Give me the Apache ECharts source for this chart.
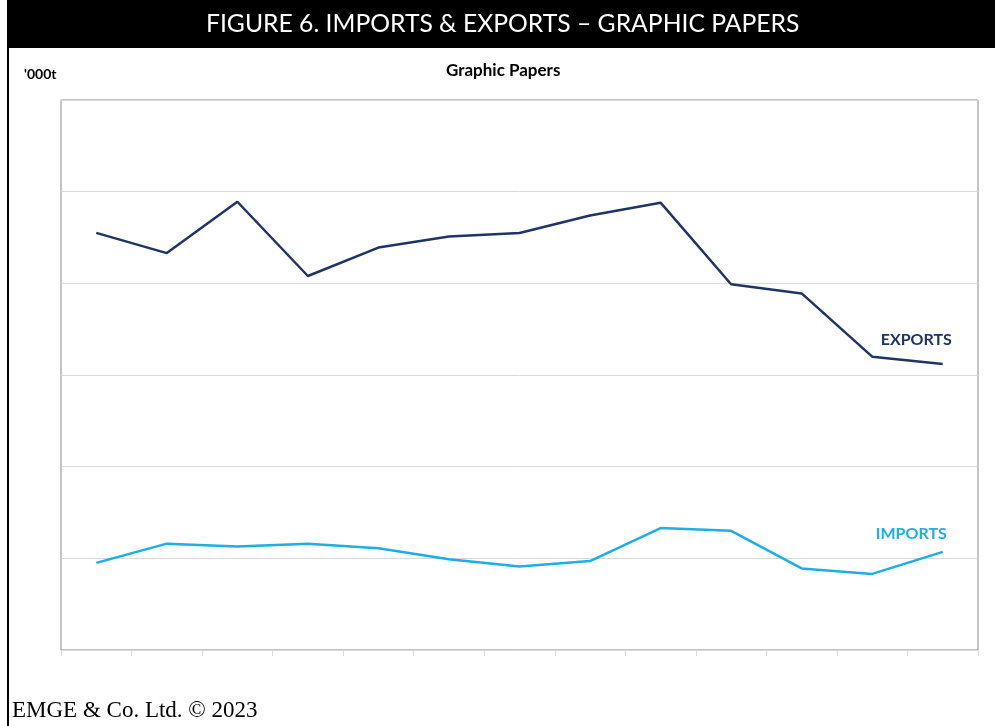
<!DOCTYPE html>
<html>
<head>
<meta charset="utf-8">
<title>Figure 6. Imports & Exports - Graphic Papers</title>
<script src="https://cdn.jsdelivr.net/npm/echarts@6/dist/echarts.min.js"></script>
<style>
  html, body { margin: 0; padding: 0; background: #fff; }
  #chart { width: 995px; height: 726px; }
</style>
</head>
<body>
<div id="chart"></div>
<script>
// data ('000t, axis values not printed)
var categories = ['1', '2', '3', '4', '5', '6', '7', '8', '9', '10', '11', '12', '13'];
var exportsData = [455, 433, 489, 408, 439, 451, 455, 474, 488, 399, 389, 320, 312];
var importsData = [95, 116, 113, 116, 111, 99, 91, 97, 133, 130, 89, 83, 107];

var exportColor = '#1f3566';
var importColor = '#1cafe6';

var myChart = echarts.init(document.getElementById('chart'), null, { renderer: 'canvas' });

var option = {
  animation: false,
  backgroundColor: '#fff',
  graphic: [
    // left frame line
    { type: 'rect', shape: { x: 7, y: 0, width: 2, height: 726 }, style: { fill: '#000' } },
    // title bar
    { type: 'rect', shape: { x: 7, y: 0, width: 988, height: 48 }, style: { fill: '#000' } },
    {
      type: 'text', left: 206, top: 12,
      style: {
        text: 'FIGURE 6. IMPORTS & EXPORTS \u2013 GRAPHIC PAPERS',
        fill: '#fff', fontFamily: 'Lato', fontSize: 24.7
      }
    },
    {
      type: 'text', left: 24, top: 67,
      style: { text: "'000t", fill: '#000', fontFamily: 'Lato', fontWeight: 'bold', fontSize: 14 }
    },
    {
      type: 'text', left: 446, top: 62,
      style: { text: 'Graphic Papers', fill: '#000', fontFamily: 'Lato', fontWeight: 'bold', fontSize: 17 }
    },
    {
      type: 'text', left: 12, top: 699,
      style: { text: 'EMGE & Co. Ltd. \u00a9 2023', fill: '#000', fontFamily: 'Liberation Serif', fontSize: 23 }
    }
  ],
  grid: {
    left: 61,
    right: 17,
    top: 100,
    bottom: 76,
    show: true,
    borderColor: '#8a8a8a',
    borderWidth: 1
  },
  xAxis: {
    type: 'category',
    data: categories,
    boundaryGap: true,
    axisLine: { lineStyle: { color: '#d9d9d9', width: 1 } },
    axisTick: { show: true, length: 6, lineStyle: { color: '#d9d9d9' } },
    axisLabel: { show: false }
  },
  yAxis: {
    type: 'value',
    min: 0,
    max: 600,
    interval: 100,
    axisLine: { show: false },
    axisTick: { show: false },
    axisLabel: { show: false },
    splitLine: { lineStyle: { color: '#d9d9d9', width: 1 } }
  },
  series: [
    {
      name: 'EXPORTS',
      type: 'line',
      data: exportsData,
      symbol: 'none',
      lineStyle: { color: exportColor, width: 2.5 },
      itemStyle: { color: exportColor },
      endLabel: {
        show: true,
        formatter: '{a}',
        offset: [-70, -24],
        color: exportColor,
        fontFamily: 'Lato',
        fontWeight: 'bold',
        fontSize: 16
      }
    },
    {
      name: 'IMPORTS',
      type: 'line',
      data: importsData,
      symbol: 'none',
      lineStyle: { color: importColor, width: 2.5 },
      itemStyle: { color: importColor },
      endLabel: {
        show: true,
        formatter: '{a}',
        offset: [-75, -18],
        color: importColor,
        fontFamily: 'Lato',
        fontWeight: 'bold',
        fontSize: 16
      }
    }
  ]
};

myChart.setOption(option);
</script>
</body>
</html>
